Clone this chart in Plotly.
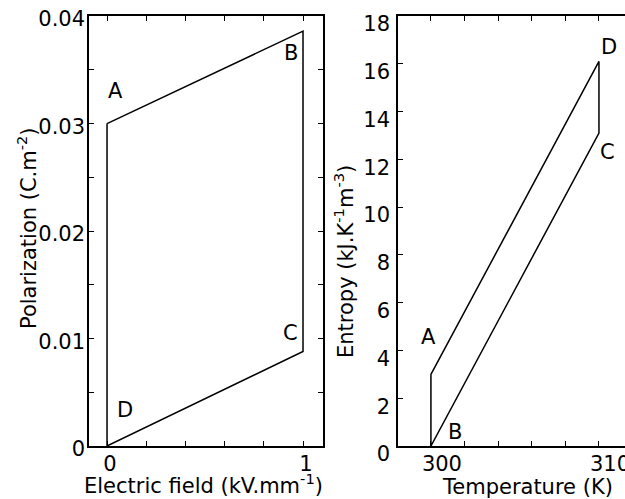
import plotly.graph_objects as go

# ---- data ----
field_kv_mm = [0, 1, 1, 0, 0]
polarization = [0.030, 0.0386, 0.0088, 0.0, 0.030]
left_labels = ["A", "B", "C", "D"]

temperature_k = [300, 310, 310, 300, 300]
entropy = [3.0, 16.1, 13.1, 0.0, 3.0]
right_labels = ["A", "D", "C", "B"]

left_xticks = [0, 0.2, 0.4, 0.6, 0.8, 1.0]
left_xtext = ["0", "", "", "", "", "1"]
left_yticks = [0, 0.005, 0.01, 0.015, 0.02, 0.025, 0.03, 0.035, 0.04]
left_ytext = ["0", "", "0.01", "", "0.02", "", "0.03", "", "0.04"]
right_xticks = [300, 302, 304, 306, 308, 310]
right_xtext = ["300", "", "", "", "", "310"]
right_yticks = [0, 2, 4, 6, 8, 10, 12, 14, 16, 18]

W, H = 625, 499
FONT = "DejaVu Sans, Liberation Sans, Arial, sans-serif"
FS = 21


def px(x):
    return x / W


def py(y):
    return 1 - y / H


fig = go.Figure()
fig.add_trace(go.Scatter(x=field_kv_mm, y=polarization, mode="lines",
                         line=dict(color="black", width=1.5),
                         xaxis="x", yaxis="y", showlegend=False))
fig.add_trace(go.Scatter(x=temperature_k, y=entropy, mode="lines",
                         line=dict(color="black", width=1.5),
                         xaxis="x2", yaxis="y2", showlegend=False))

axis_common = dict(showgrid=False, zeroline=False, showline=True, linecolor="black",
                   linewidth=1.5, ticks="inside", ticklen=5, tickwidth=1.2,
                   tickcolor="black", automargin=False, ticklabeloverflow="allow",
                   tickfont=dict(family=FONT, size=FS, color="black"))

ydom = [py(446), py(16)]
fig.update_layout(
    width=W, height=H,
    margin=dict(l=0, r=0, t=0, b=0),
    paper_bgcolor="white", plot_bgcolor="white",
    template="none",
    xaxis=dict(domain=[px(89), px(323)], range=[-0.092, 1.102], anchor="y",
               tickmode="array", tickvals=left_xticks, ticktext=left_xtext,
               mirror="allticks", ticklabelshift=3, ticklabelstandoff=-2, **axis_common),
    yaxis=dict(domain=ydom, range=[0, 0.04001], anchor="x",
               tickmode="array", tickvals=left_yticks, ticktext=left_ytext,
               mirror="allticks", ticklabelshift=3, ticklabelstandoff=-2, **axis_common),
    xaxis2=dict(domain=[px(398), 1.0], range=[298.04, 311.55], anchor="y2",
                tickmode="array", tickvals=right_xticks, ticktext=right_xtext,
                mirror="allticks", ticklabelshift=11, ticklabelstandoff=-2, **axis_common),
    yaxis2=dict(domain=ydom, range=[0, 18.001], anchor="x2",
                tickmode="array", tickvals=right_yticks,
                ticktext=[str(v) for v in right_yticks],
                mirror=False, ticklabelshift=8, ticklabelstandoff=2, **axis_common),
)

left_label_pos = [(115, 91), (291, 53), (290, 333), (125, 410)]
right_label_pos = [(428, 337), (609, 47), (607, 152), (455, 432)]
anns = []
for t, (x, y) in zip(left_labels, left_label_pos):
    anns.append(dict(text=t, x=px(x), y=py(y)))
for t, (x, y) in zip(right_labels, right_label_pos):
    anns.append(dict(text=t, x=px(x), y=py(y)))

anns.append(dict(text="Polarization (C.m<sup>-2</sup>)", x=px(27), y=py(228), textangle=-90))
anns.append(dict(text="Entropy (kJ.K<sup>-1</sup>m<sup>-3</sup>)", x=px(344), y=py(262), textangle=-90))
anns.append(dict(text="Electric field (kV.mm<sup>-1</sup>)", x=px(203), y=py(484)))
anns.append(dict(text="Temperature (K)", x=px(527), y=py(487)))

for a in anns:
    a.update(xref="paper", yref="paper", showarrow=False, xanchor="center",
             yanchor="middle", font=dict(family=FONT, size=FS, color="black"))
fig.update_layout(annotations=anns)

fig.write_html("out.html")
